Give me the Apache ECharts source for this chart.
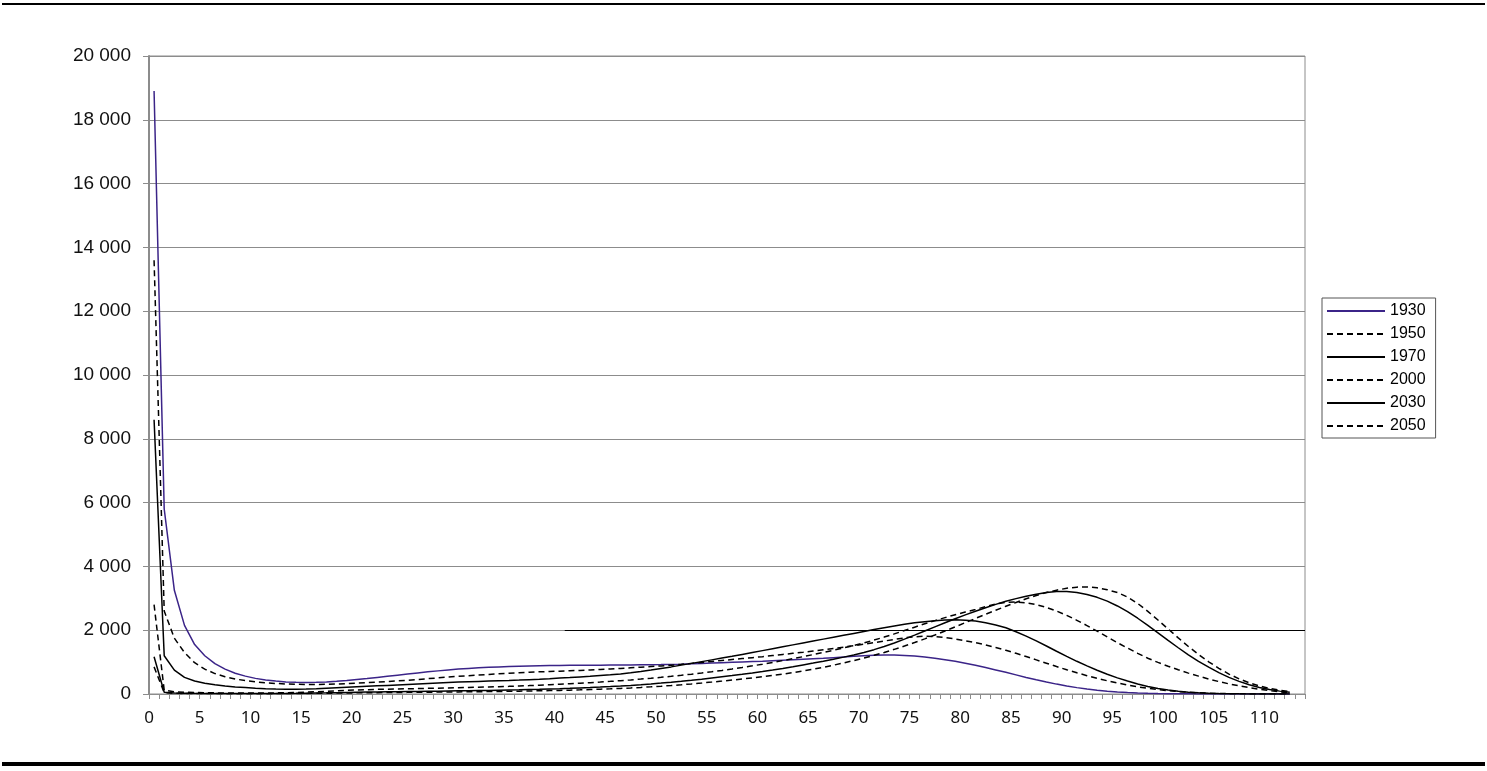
<!DOCTYPE html>
<html>
<head>
<meta charset="utf-8">
<script src="https://cdn.jsdelivr.net/npm/echarts@6/dist/echarts.min.js"></script>
<style>
  body { margin: 0; background: #fff; }
  #chart { position: absolute; left: 0; top: 0; width: 1487px; height: 771px; }
  /* black rules above and below the chart */
  .rule { position: absolute; left: 2px; width: 1483px; background: #000; }
</style>
</head>
<body>
<div id="chart"></div>
<div class="rule" style="top:3px;height:2px"></div>
<div class="rule" style="top:762px;height:4px"></div>
<script>
// age categories (one band per year)
var ages = [0, 1, 2, 3, 4, 5, 6, 7, 8, 9, 10, 11, 12, 13, 14, 15, 16, 17, 18, 19,
  20, 21, 22, 23, 24, 25, 26, 27, 28, 29, 30, 31, 32, 33, 34, 35, 36, 37, 38, 39,
  40, 41, 42, 43, 44, 45, 46, 47, 48, 49, 50, 51, 52, 53, 54, 55, 56, 57, 58, 59,
  60, 61, 62, 63, 64, 65, 66, 67, 68, 69, 70, 71, 72, 73, 74, 75, 76, 77, 78, 79,
  80, 81, 82, 83, 84, 85, 86, 87, 88, 89, 90, 91, 92, 93, 94, 95, 96, 97, 98, 99,
  100, 101, 102, 103, 104, 105, 106, 107, 108, 109, 110, 111, 112, 113];

var names = ['1930', '1950', '1970', '2000', '2030', '2050'];

var d1930 = [18900, 5800, 3250, 2150, 1550, 1200, 950, 780, 650, 560,
  490, 440, 405, 380, 365, 360, 365, 380, 400, 425,
  455, 485, 520, 555, 590, 625, 660, 695, 725, 755,
  780, 800, 820, 835, 850, 860, 870, 878, 885, 890,
  895, 898, 900, 902, 904, 906, 908, 910, 914, 918,
  922, 928, 935, 945, 955, 968, 980, 992, 1005, 1018,
  1030, 1045, 1060, 1075, 1090, 1105, 1120, 1140, 1160, 1180,
  1200, 1212, 1220, 1220, 1210, 1190, 1160, 1120, 1075, 1025,
  965, 900, 830, 755, 680, 600, 520, 445, 375, 310,
  250, 200, 155, 118, 88, 64, 46, 32, 22, 15,
  10, 6, 4, 2, 1, 1, 0, 0, 0, 0,
  0, 0, 0];

var d1950 = [13600, 2600, 1750, 1300, 980, 780, 640, 540, 470, 420,
  380, 350, 330, 315, 305, 300, 300, 305, 315, 325,
  340, 355, 370, 390, 410, 430, 455, 480, 505, 530,
  555, 575, 595, 615, 635, 650, 665, 680, 695, 705,
  715, 728, 740, 755, 770, 785, 800, 820, 840, 860,
  880, 905, 930, 960, 990, 1020, 1050, 1080, 1110, 1140,
  1170, 1205, 1240, 1275, 1310, 1350, 1390, 1430, 1470, 1515,
  1560, 1610, 1660, 1710, 1760, 1795, 1810, 1800, 1770, 1725,
  1670, 1610, 1540, 1460, 1370, 1275, 1175, 1070, 965, 860,
  760, 665, 575, 490, 415, 345, 282, 225, 178, 140,
  105, 76, 54, 37, 25, 16, 10, 6, 3, 2,
  1, 0, 0];

var d1970 = [8600, 1200, 750, 520, 410, 340, 290, 250, 220, 200,
  180, 165, 155, 150, 150, 155, 165, 180, 195, 210,
  225, 240, 255, 270, 285, 300, 315, 330, 345, 360,
  375, 385, 395, 405, 415, 425, 437, 450, 463, 480,
  500, 515, 535, 555, 578, 600, 630, 665, 705, 750,
  800, 850, 905, 960, 1015, 1070, 1125, 1180, 1240, 1300,
  1360, 1420, 1480, 1540, 1600, 1660, 1720, 1780, 1840, 1900,
  1960, 2020, 2080, 2135, 2185, 2230, 2268, 2298, 2318, 2325,
  2315, 2285, 2235, 2165, 2075, 1950, 1815, 1665, 1505, 1340,
  1180, 1025, 880, 745, 620, 505, 405, 312, 235, 172,
  123, 85, 57, 37, 23, 14, 8, 4, 2, 1,
  0, 0, 0];

var d2000 = [2800, 120, 70, 55, 45, 40, 35, 32, 30, 30,
  30, 32, 35, 40, 48, 58, 70, 85, 100, 115,
  125, 135, 145, 152, 158, 164, 170, 177, 184, 191,
  198, 205, 213, 221, 230, 240, 251, 263, 276, 290,
  305, 321, 338, 356, 375, 396, 418, 442, 467, 494,
  523, 554, 587, 622, 659, 698, 740, 785, 832, 882,
  935, 990, 1048, 1108, 1170, 1235, 1302, 1372, 1445, 1520,
  1600, 1690, 1785, 1885, 1990, 2095, 2200, 2300, 2395, 2485,
  2570, 2650, 2740, 2820, 2875, 2885, 2860, 2800, 2715, 2600,
  2465, 2310, 2145, 1970, 1790, 1610, 1440, 1275, 1120, 990,
  870, 760, 655, 560, 470, 390, 318, 255, 200, 150,
  105, 65, 35];

var d2030 = [1170, 55, 30, 25, 20, 18, 16, 15, 15, 15,
  15, 15, 16, 18, 21, 25, 30, 36, 43, 50,
  56, 61, 66, 70, 74, 78, 82, 86, 90, 94,
  98, 102, 107, 112, 118, 124, 131, 139, 147, 156,
  166, 177, 189, 202, 216, 232, 250, 270, 292, 316,
  342, 370, 400, 432, 466, 503, 540, 578, 618, 660,
  705, 752, 802, 855, 912, 970, 1030, 1092, 1156, 1222,
  1300, 1390, 1490, 1600, 1720, 1845, 1975, 2105, 2235, 2360,
  2480, 2595, 2705, 2810, 2905, 2990, 3065, 3130, 3180, 3215,
  3215, 3185, 3120, 3030, 2910, 2760, 2580, 2375, 2150, 1915,
  1680, 1450, 1230, 1025, 840, 670, 520, 395, 290, 205,
  140, 90, 55];

var d2050 = [850, 40, 22, 18, 15, 13, 12, 11, 11, 11,
  11, 11, 12, 13, 15, 18, 21, 25, 29, 33,
  36, 39, 42, 45, 48, 51, 54, 57, 60, 63,
  66, 69, 72, 76, 80, 84, 89, 94, 100, 106,
  113, 121, 130, 140, 151, 163, 176, 190, 206, 224,
  244, 266, 290, 316, 344, 374, 405, 437, 470, 505,
  542, 582, 625, 672, 723, 778, 838, 903, 973, 1048,
  1128, 1213, 1303, 1400, 1503, 1612, 1727, 1848, 1974, 2104,
  2236, 2368, 2498, 2625, 2750, 2870, 2985, 3090, 3180, 3255,
  3315, 3350, 3358, 3330, 3270, 3180, 3040, 2840, 2590, 2320,
  2040, 1760, 1490, 1240, 1010, 805, 625, 475, 350, 252,
  175, 118, 75];

var values = [d1930, d1950, d1970, d2000, d2030, d2050];

// the stray black stretch over the 2 000 gridline
var ruleLevel = 2000;
var ruleFrom = 41;
var ruleTo = 114;

var colors = ['#3b2488', '#000', '#000', '#000', '#000', '#000'];
var lineTypes = ['solid', [6, 4], 'solid', [6, 4], 'solid', [6, 4]];

function spaced(v) {
  return String(v).replace(/\B(?=(\d{3})+(?!\d))/g, ' ');
}

var chartDom = document.getElementById('chart');
var myChart = echarts.init(chartDom);

var series = names.map(function (n, i) {
  return {
    name: n,
    type: 'line',
    xAxisIndex: 1,
    data: values[i],
    symbol: 'none',
    showSymbol: false,
    smooth: false,
    lineStyle: { color: colors[i], width: 1.5, type: lineTypes[i] },
    itemStyle: { color: colors[i] }
  };
});

series.push({
  type: 'line',
  xAxisIndex: 0,
  data: [],
  silent: true,
  markLine: {
    symbol: 'none',
    silent: true,
    label: { show: false },
    lineStyle: { color: '#000', width: 1, type: 'solid' },
    data: [[{ coord: [ruleFrom, ruleLevel] }, { coord: [ruleTo, ruleLevel] }]]
  }
});

var option = {
  animation: false,
  backgroundColor: '#fff',
  grid: {
    left: 149, right: 182, top: 56, bottom: 77,
    show: true, borderColor: '#8c8c8c', borderWidth: 1
  },
  xAxis: [
    {
      type: 'value',
      position: 'bottom',
      min: 0,
      max: 114,
      interval: 1,
      axisLine: { show: true, lineStyle: { color: '#8c8c8c', width: 1 } },
      axisTick: { show: true, length: 5, lineStyle: { color: '#8c8c8c' } },
      axisLabel: {
        margin: 16,
        fontFamily: 'Noto Sans',
        fontSize: 17,
        color: '#111',
        formatter: function (v) { return (v % 5 === 0 && v <= 110) ? String(v) : ''; }
      },
      splitLine: { show: false }
    },
    {
      type: 'category',
      position: 'top',
      data: ages,
      boundaryGap: true,
      show: false
    }
  ],
  yAxis: {
    type: 'value',
    min: 0,
    max: 20000,
    interval: 2000,
    axisLine: { show: true, lineStyle: { color: '#8c8c8c', width: 2 } },
    axisTick: { show: true, length: 6, lineStyle: { color: '#8c8c8c' } },
    axisLabel: {
      margin: 18,
      fontFamily: 'Liberation Sans',
      fontSize: 19,
      color: '#111',
      formatter: spaced
    },
    splitLine: { lineStyle: { color: '#8c8c8c', width: 1 } }
  },
  legend: {
    orient: 'vertical',
    left: 1322,
    top: 298,
    data: names,
    itemWidth: 58,
    itemHeight: 12,
    itemGap: 7,
    padding: [5, 10, 4, 4],
    borderColor: '#555',
    borderWidth: 1,
    itemStyle: { opacity: 0 },
    textStyle: { fontFamily: 'Liberation Sans', fontSize: 16, color: '#000' }
  },
  series: series
};

myChart.setOption(option);
</script>
</body>
</html>
